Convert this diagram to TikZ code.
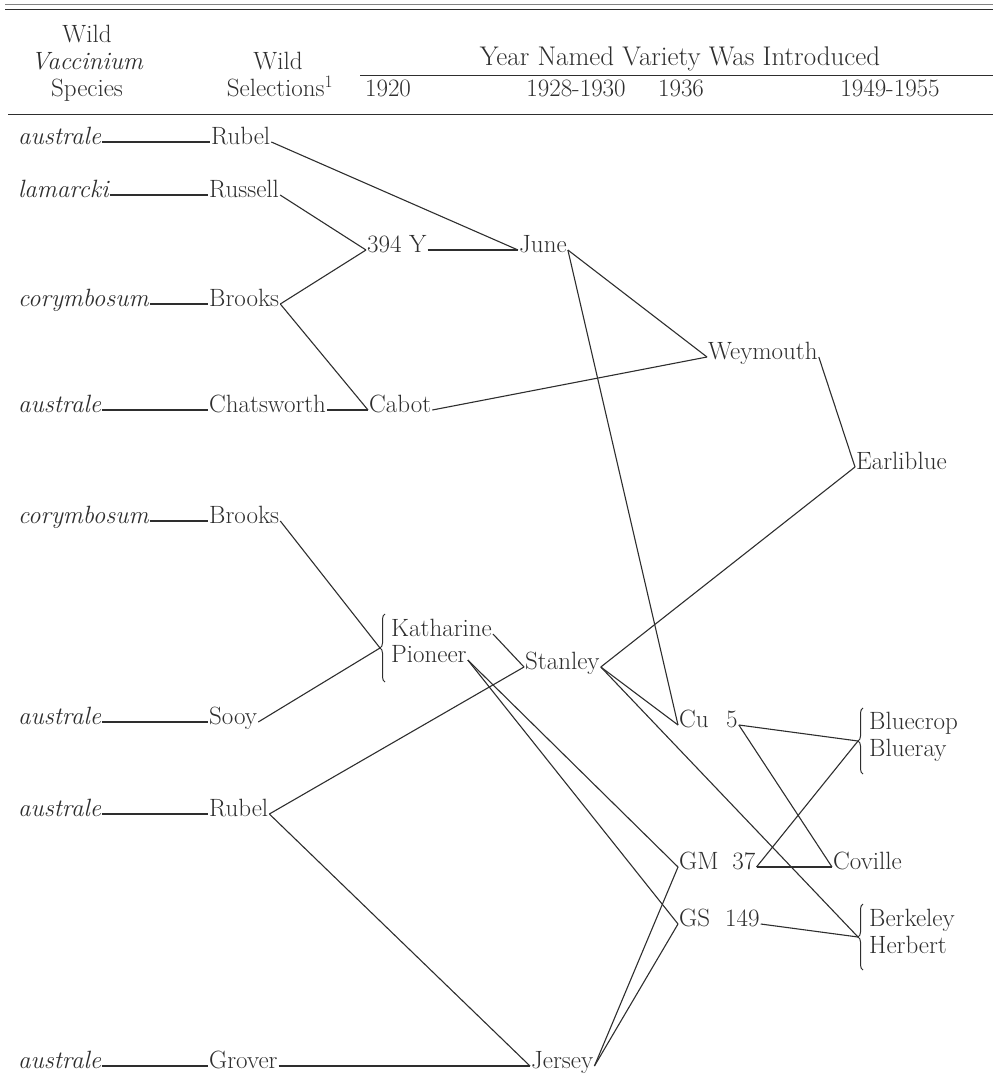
\documentclass[tikz,border=0pt]{standalone}
\usetikzlibrary{decorations.pathreplacing}
\definecolor{ink}{HTML}{2E2E2E}
\begin{document}
\begin{tikzpicture}[x=1pt,y=-1pt,
  lbl/.style={anchor=mid west,inner sep=1pt,text=ink,font=\fontsize{25}{29}\selectfont},
  sp/.style={anchor=mid west,inner sep=1pt,text=ink,font=\fontsize{25}{29}\selectfont\itshape},
  hd/.style={anchor=base,inner sep=0pt,text=ink,font=\fontsize{25}{29}\selectfont},
  ln/.style={draw=ink,line width=1.1pt},
  br/.style={draw=ink,line width=1pt,decorate,decoration={brace,amplitude=5pt}}]
\useasboundingbox (0,0) rectangle (993,1091);
% header
\draw[draw=ink!60,line width=0.8pt] (5,4) -- (993,4);
\draw[draw=ink,line width=1pt] (5,10) -- (993,10);
\node[hd] (h1) at (87,43) {Wild};
\node[hd] (h2) at (87,70) {\itshape Vaccinium};
\node[hd] (h3) at (87,97) {Species};
\node[hd] (h4) at (278,70) {Wild};
\node[hd] (h5) at (280,97) {Selections\textsuperscript{1}};
\node[hd,font=\fontsize{27}{31}\selectfont] (h6) at (680,66) {Year Named Variety Was Introduced};
\draw[draw=ink,line width=1pt] (360,76) -- (993,76);
\node[hd] (h7) at (388,97) {1920};
\node[hd] (h8) at (576,97) {1928-1930};
\node[hd] (h9) at (681,97) {1936};
\node[hd] (h10) at (890,97) {1949-1955};
\draw[draw=ink,line width=1pt] (8,115) -- (993,115);
% nodes
\node[sp] (sp1) at (17,142) {australe};
\node[lbl] (se1) at (210,142) {Rubel};
\node[sp] (sp2) at (17,195) {lamarcki};
\node[lbl] (se2) at (208,195) {Russell};
\node[lbl] (y394) at (366,250) {394 Y};
\node[lbl] (june) at (518,250) {June};
\node[sp] (sp3) at (17,304) {corymbosum};
\node[lbl] (se3) at (208,304) {Brooks};
\node[lbl] (wey) at (707,357) {Weymouth};
\node[sp] (sp4) at (17,410) {australe};
\node[lbl] (se4) at (208,410) {Chatsworth};
\node[lbl] (cabot) at (368,410) {Cabot};
\node[lbl] (earli) at (855,467) {Earliblue};
\node[sp] (sp5) at (17,521) {corymbosum};
\node[lbl] (se5) at (208,521) {Brooks};
\node[lbl] (kath) at (390,634) {Katharine};
\node[lbl] (pion) at (390,660) {Pioneer};
\node[lbl] (stan) at (524,667) {Stanley};
\node[sp] (sp6) at (17,722) {australe};
\node[lbl] (se6) at (208,722) {Sooy};
\node[lbl] (cu5) at (678,725) {Cu\hspace{0.7em}5};
\node[lbl] (bcrop) at (868,727) {Bluecrop};
\node[lbl] (bray) at (868,754) {Blueray};
\node[sp] (sp7) at (17,814) {australe};
\node[lbl] (se7) at (208,814) {Rubel};
\node[lbl] (gm37) at (678,867) {GM\hspace{0.55em}37};
\node[lbl] (cov) at (832,867) {Coville};
\node[lbl] (gs149) at (678,924) {GS\hspace{0.6em}149};
\node[lbl] (berk) at (868,924) {Berkeley};
\node[lbl] (herb) at (868,951) {Herbert};
\node[sp] (sp8) at (17,1066) {australe};
\node[lbl] (se8) at (208,1066) {Grover};
\node[lbl] (jers) at (530,1066) {Jersey};
% braces
\draw[br] (385,682) -- (385,614);
\coordinate (kp) at (380,648);
\draw[br] (863,774) -- (863,708);
\coordinate (bb) at (858,741);
\draw[br] (863,970) -- (863,904);
\coordinate (bh) at (858,937);
% connectors
\draw[ln] (sp1.mid east) -- (se1.mid west);
\draw[ln] (sp2.mid east) -- (se2.mid west);
\draw[ln] (sp3.mid east) -- (se3.mid west);
\draw[ln] (sp4.mid east) -- (se4.mid west);
\draw[ln] (se4.mid east) -- (cabot.mid west);
\draw[ln] (sp5.mid east) -- (se5.mid west);
\draw[ln] (sp6.mid east) -- (se6.mid west);
\draw[ln] (sp7.mid east) -- (se7.mid west);
\draw[ln] (sp8.mid east) -- (se8.mid west);
\draw[ln] (se8.mid east) -- (jers.mid west);
\draw[ln] (se1.mid east) -- (june.mid west);
\draw[ln] (se2.mid east) -- (y394.mid west);
\draw[ln] (se3.mid east) -- (y394.mid west);
\draw[ln] (se3.mid east) -- (cabot.mid west);
\draw[ln] (y394.mid east) -- (june.mid west);
\draw[ln] (june.mid east) -- (wey.mid west);
\draw[ln] (june.mid east) -- (cu5.mid west);
\draw[ln] (cabot.mid east) -- (wey.mid west);
\draw[ln] (wey.mid east) -- (earli.mid west);
\draw[ln] (earli.mid west) -- (stan.mid east);
\draw[ln] (se5.mid east) -- (kp);
\draw[ln] (se6.mid east) -- (kp);
\draw[ln] (kath.mid east) -- (stan.mid west);
\draw[ln] (pion.mid east) -- (gm37.mid west);
\draw[ln] (pion.mid east) -- (gs149.mid west);
\draw[ln] (se7.mid east) -- (stan.mid west);
\draw[ln] (se7.mid east) -- (jers.mid west);
\draw[ln] (jers.mid east) -- (gm37.mid west);
\draw[ln] (jers.mid east) -- (gs149.mid west);
\draw[ln] (stan.mid east) -- (cu5.mid west);
\draw[ln] (stan.mid east) -- (bh);
\draw[ln] (cu5.mid east) -- (bb);
\draw[ln] (cu5.mid east) -- (cov.mid west);
\draw[ln] (gm37.mid east) -- (cov.mid west);
\draw[ln] (gm37.mid east) -- (bb);
\draw[ln] (gs149.mid east) -- (bh);
\end{tikzpicture}
\end{document}
